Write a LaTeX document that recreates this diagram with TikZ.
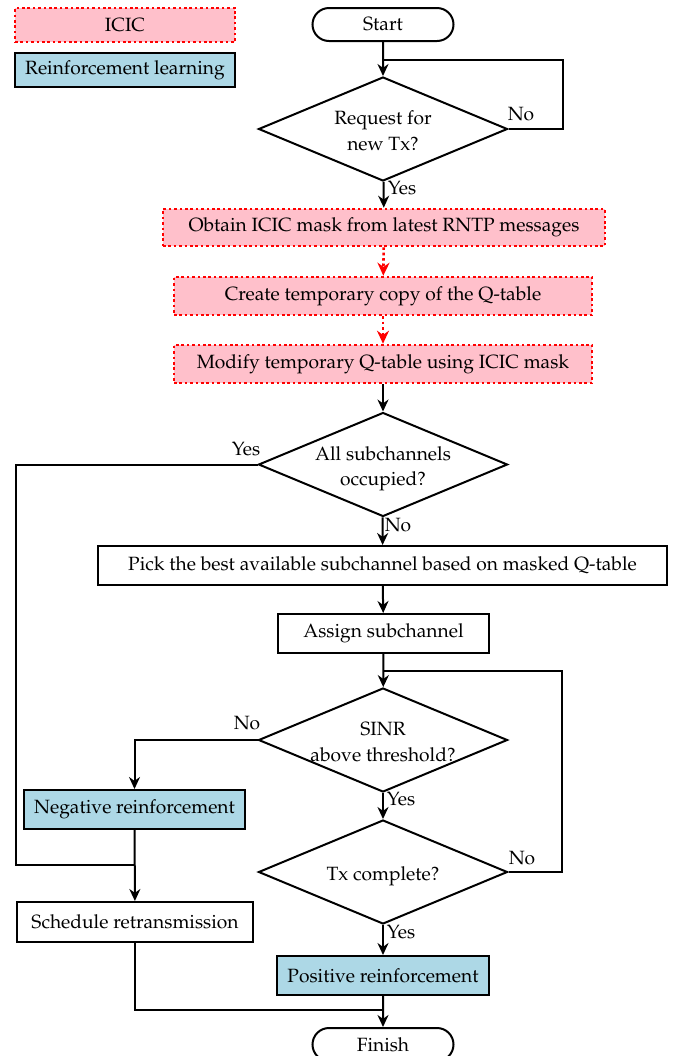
\documentclass[tikz,border=0pt]{standalone}
\usepackage[T1]{fontenc}
\usepackage{mathpazo}
\usetikzlibrary{shapes.geometric,shapes.misc,arrows.meta}
\definecolor{icicpink}{RGB}{255,192,203}
\definecolor{rlblue}{RGB}{173,216,230}
\newcommand\dtext[1]{\raisebox{-4pt}[0pt][0pt]{\makebox[0pt]{\begin{tabular}{@{}c@{}}#1\end{tabular}}}}
\begin{document}
\begin{tikzpicture}[x=0.5pt,y=-0.5pt, font=\fontsize{9.6}{12.8}\selectfont,
 line width=1pt, >={Stealth[length=6pt,width=5.5pt]},
 base/.style={draw, line width=1pt, inner sep=0pt, align=center},
 proc/.style={base, rectangle},
 icic/.style={proc, fill=icicpink, draw=red, dash pattern=on 1.3pt off 1.4pt, line width=1.3pt},
 rl/.style={proc, fill=rlblue},
 term/.style={base, rounded rectangle, minimum width=70.5pt, minimum height=16.5pt},
 dec/.style={base, diamond, aspect=2.4, minimum width=124.5pt, minimum height=52pt},
 lbl/.style={inner sep=0pt},
 arr/.style={->},
 redarr/.style={-{Stealth[length=6.5pt,width=6pt]}, red, dash pattern=on 1.3pt off 1.4pt, line width=1.3pt}]
\useasboundingbox (0,0) rectangle (683,1056);
% legend
\node[icic, minimum width=110pt, minimum height=17pt] (legicic) at (125,25) {ICIC};
\node[rl, minimum width=110pt, minimum height=17pt] (legrl) at (125,70) {Reinforcement learning};
% main nodes
\node[term] (start) at (383,24.5) {Start};
\node[dec] (d1) at (383,129) {\dtext{Request for\\new Tx?}};
\node[icic, minimum width=221pt, minimum height=18.5pt] (b1) at (384,227.5) {Obtain ICIC mask from latest RNTP messages};
\node[icic, minimum width=209pt, minimum height=19pt] (b2) at (383,296) {Create temporary copy of the Q-table};
\node[icic, minimum width=209pt, minimum height=19pt] (b3) at (383,364) {Modify temporary Q-table using ICIC mask};
\node[dec] (d2) at (383,464.5) {\dtext{All subchannels\\occupied?}};
\node[proc, minimum width=284.5pt, minimum height=19.5pt] (pick) at (382.5,565.5) {Pick the best available subchannel based on masked Q-table};
\node[proc, minimum width=105.5pt, minimum height=19.5pt] (assign) at (383.5,633.5) {Assign subchannel};
\node[dec] (d3) at (383,740) {\dtext{SINR\\above threshold?}};
\node[rl, minimum width=110.5pt, minimum height=19.5pt] (neg) at (134.5,809.5) {Negative reinforcement};
\node[dec] (d4) at (383,872) {\dtext{Tx complete?}};
\node[proc, minimum width=118pt, minimum height=20pt] (sched) at (135,922) {Schedule retransmission};
\node[rl, minimum width=106pt, minimum height=19.5pt] (pos) at (383,975.5) {Positive reinforcement};
\node[term] (finish) at (383,1044.5) {Finish};
% labels
\node[lbl] (l1no) at (521,114) {No};
\node[lbl] (l1yes) at (402,188) {Yes};
\node[lbl] (l2yes) at (246,449) {Yes};
\node[lbl] (l2no) at (398,525) {No};
\node[lbl] (l3no) at (247,723) {No};
\node[lbl] (l3yes) at (401,799) {Yes};
\node[lbl] (l4no) at (522,858) {No};
\node[lbl] (l4yes) at (401,932) {Yes};
% helper coordinates
\coordinate (m1) at (383,60);
\coordinate (j1) at (135,865);
\coordinate (m2) at (383,671);
\coordinate (m3) at (383,1010);
% connectors
\draw[arr] (start) -- (d1);
\draw (d1.east) -- ++(54,0) |- (m1);
\draw[arr] (d1) -- (b1);
\draw[redarr] (b1) -- (b2);
\draw[redarr] (b2) -- (b3);
\draw[arr] (b3) -- (d2);
\draw (d2.west) -- ++(-242,0) |- (j1);
\draw[arr] (d2) -- (pick);
\draw[arr] (pick) -- (assign);
\draw[arr] (assign) -- (d3);
\draw[arr] (d3.west) -| (neg.north);
\draw[arr] (d3) -- (d4);
\draw (d4.east) -- ++(53,0) |- (m2);
\draw[arr] (neg) -- (sched);
\draw[arr] (d4) -- (pos);
\draw[arr] (pos) -- (finish);
\draw (sched.south) |- (m3);
\end{tikzpicture}
\end{document}
